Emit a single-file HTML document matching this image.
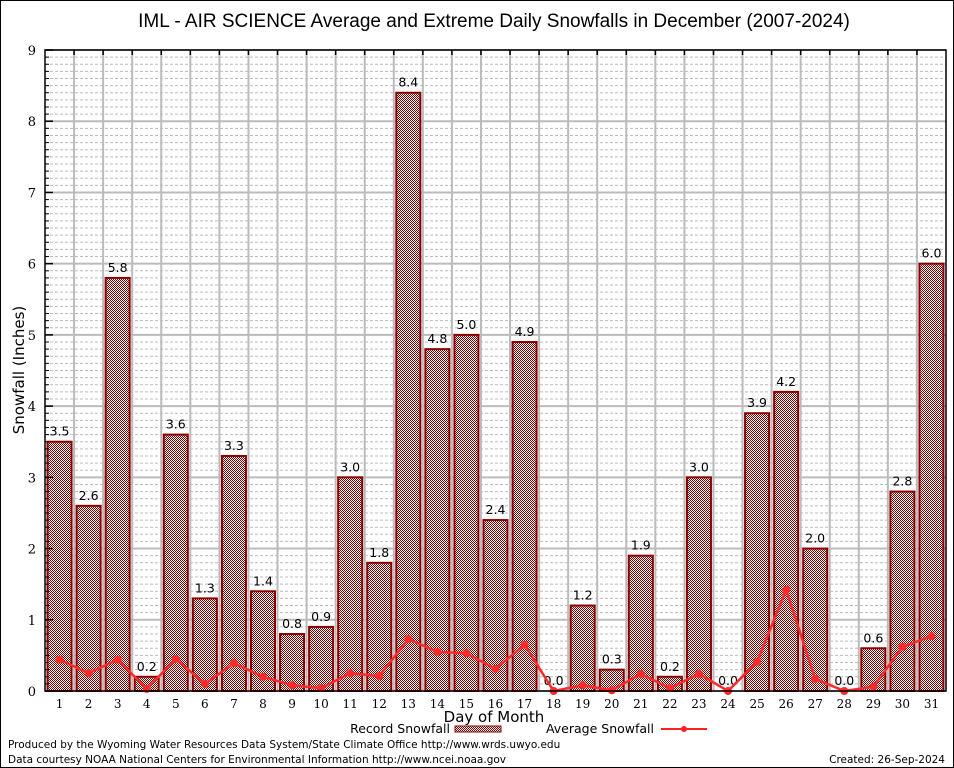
<!DOCTYPE html>
<html><head><meta charset="utf-8"><style>
html,body{margin:0;padding:0;background:#fff}
svg{display:block}
text{font-family:"DejaVu Sans","Liberation Sans",sans-serif}
.serif{font-family:"DejaVu Serif","Liberation Serif",serif}
</style></head><body>
<svg id="chart" width="954" height="768" xmlns="http://www.w3.org/2000/svg">
<defs>
<pattern id="chk" width="2" height="2" patternUnits="userSpaceOnUse">
<rect width="2" height="2" fill="#fff"/><rect width="1" height="1" fill="#7a0000"/><rect x="1" y="1" width="1" height="1" fill="#7a0000"/>
</pattern>
</defs>
<rect x="0.5" y="0.5" width="953" height="767" fill="#fff" stroke="#000"/>
<text x="494" y="27" font-size="19" text-anchor="middle" style="font-family:'Liberation Sans',sans-serif">IML - AIR SCIENCE Average and Extreme Daily Snowfalls in December (2007-2024)</text>
<g id="grid"></g>
<g id="bars"></g>
<g id="avg"></g>
<g id="axes"></g>
<text x="24" y="370" font-size="15" text-anchor="middle" transform="rotate(-90 24 370)">Snowfall (Inches)</text>
<text x="494" y="722" font-size="15" text-anchor="middle">Day of Month</text>
<g>
<text x="450" y="733" font-size="12.5" text-anchor="end">Record Snowfall</text>
<rect x="455" y="726" width="46" height="6" fill="url(#chk)" stroke="#8b0000"/>
<text x="654" y="733" font-size="12.5" text-anchor="end">Average Snowfall</text>
<line x1="661" y1="729" x2="707" y2="729" stroke="#ff2020" stroke-width="2"/>
<circle cx="684" cy="729" r="3" fill="#ff2020"/>
</g>
<text x="8" y="748" font-size="10.5">Produced by the Wyoming Water Resources Data System/State Climate Office http://www.wrds.uwyo.edu</text>
<text x="8" y="763" font-size="10.5">Data courtesy NOAA National Centers for Environmental Information http://www.ncei.noaa.gov</text>
<text x="945" y="763" font-size="10.5" text-anchor="end">Created:  26-Sep-2024</text>
</svg>
<script>
const days = [1,2,3,4,5,6,7,8,9,10,11,12,13,14,15,16,17,18,19,20,21,22,23,24,25,26,27,28,29,30,31];
const recordSnow = [3.5,2.6,5.8,0.2,3.6,1.3,3.3,1.4,0.8,0.9,3.0,1.8,8.4,4.8,5.0,2.4,4.9,0.0,1.2,0.3,1.9,0.2,3.0,0.0,3.9,4.2,2.0,0.0,0.6,2.8,6.0];
const avgSnow = [0.44,0.25,0.44,0.03,0.45,0.1,0.39,0.2,0.08,0.04,0.25,0.21,0.73,0.55,0.53,0.31,0.65,0.0,0.08,0.01,0.24,0.04,0.24,0.0,0.41,1.42,0.17,0.0,0.06,0.62,0.77];
const yTicks = [0,1,2,3,4,5,6,7,8,9];
const NS="http://www.w3.org/2000/svg";
const L=45,R=946,T=50,B=691,yMax=9;
const bw=(R-L)/days.length;
const x=d=>L+bw*(d-0.5);
const y=v=>B-(v/yMax)*(B-T);
function mk(tag,attrs,parent){const e=document.createElementNS(NS,tag);for(const k in attrs)e.setAttribute(k,attrs[k]);parent.appendChild(e);return e;}
const grid=document.getElementById('grid'),bars=document.getElementById('bars'),avg=document.getElementById('avg'),axes=document.getElementById('axes');
for(let i=1;i<yMax*10;i++){if(i%10===0)continue;const g=mk('line',{x1:L,x2:R,y1:y(i/10),y2:y(i/10),stroke:'#bbb','stroke-dasharray':'3,2','stroke-width':1},grid);

}
yTicks.forEach(t=>{const g=mk('line',{x1:L,x2:R,y1:y(t),y2:y(t),stroke:'#bbb','stroke-width':2},grid);


const tx=mk('text',{x:L-9,y:y(t)+5,'font-size':13,'text-anchor':'end',class:'serif'},axes);tx.textContent=t;

});
days.forEach((d,i)=>{if(i>0){const g=mk('line',{x1:L+bw*i,x2:L+bw*i,y1:T,y2:B,stroke:'#bbb','stroke-width':2},grid);


const tk=mk('line',{x1:L+bw*i,x2:L+bw*i,y1:T,y2:T+5,stroke:'#000','stroke-width':1.5},axes);

}
const v=recordSnow[i];const bx=x(d)-12;
const b=mk('rect',{x:bx,y:y(v),width:24,height:B-y(v),fill:'url(#chk)',stroke:'#8b0000','stroke-width':2},bars);


const lb=mk('text',{x:x(d),y:y(v)-6,'font-size':12.5,'text-anchor':'middle'},bars);lb.textContent=v.toFixed(1);


const xl=mk('text',{x:x(d),y:B+17,'font-size':12,'text-anchor':'middle',class:'serif'},axes);xl.textContent=d;

});
const pts=days.map((d,i)=>x(d)+','+y(avgSnow[i])).join(' ');
const pl=mk('polyline',{points:pts,fill:'none',stroke:'#ff2a2a','stroke-width':2.5},avg);


days.forEach((d,i)=>{const c=mk('circle',{cx:x(d),cy:y(avgSnow[i]),r:4,fill:'#ff2a2a'},avg);

});
const fr=mk('rect',{x:L,y:T,width:R-L,height:B-T,fill:'none',stroke:'#000','stroke-width':1.5},axes);


for(let i=1;i<yMax*10;i++){if(i%10===0)continue;const tk=mk('line',{x1:L,x2:L+4,y1:y(i/10),y2:y(i/10),stroke:'#000'},axes);

}
yTicks.forEach(t=>{const tk=mk('line',{x1:L,x2:L+8,y1:y(t),y2:y(t),stroke:'#000','stroke-width':1.5},axes);

});
</script>
</body></html>
